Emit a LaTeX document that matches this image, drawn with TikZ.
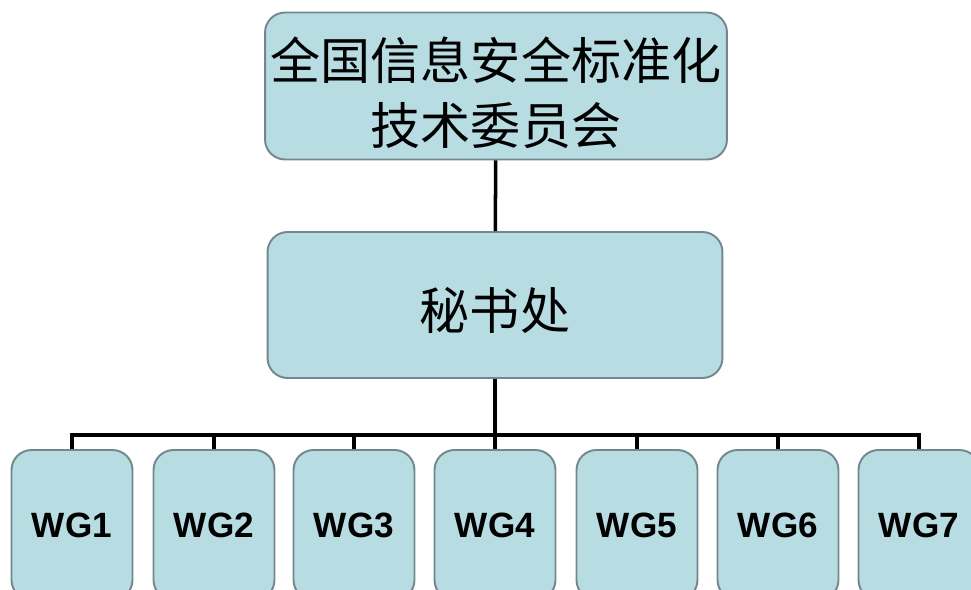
\documentclass[tikz,border=0pt]{standalone}
\usepackage{fontspec}
\setmainfont{Liberation Sans}
\newfontfamily\cjk{Noto Sans CJK SC}
\usepackage{tikz}
\usetikzlibrary{calc}
\definecolor{boxfill}{RGB}{183,221,227}
\definecolor{boxline}{RGB}{115,135,140}
\tikzset{
  orgbox/.style={draw=boxline,line width=1.1pt,fill=boxfill,rounded corners=0.4cm,inner sep=0pt},
  wgbox/.style={orgbox,minimum width=2.42cm,minimum height=3cm,font=\bfseries\fontsize{20}{24}\selectfont},
  link/.style={line width=2pt,black}
}

\begin{document}
\begin{tikzpicture}[x=0.02cm,y=-0.02cm]
\useasboundingbox (0,0) rectangle (971,589);
\clip (0,0) rectangle (971,589);
\node[orgbox,minimum width=9.24cm,minimum height=2.94cm,align=center,
  font=\cjk\fontsize{28.5}{37.5}\selectfont] (top) at (496,86) {\rule{0pt}{32pt}全国信息安全标准化\\技术委员会};
\node[orgbox,minimum width=9.1cm,minimum height=2.92cm,
  font=\cjk\fontsize{28.5}{34}\selectfont] (sec) at (495,305) {\rule{0pt}{30.5pt}秘书处};
\coordinate (bus) at (495,435);
\foreach \x [count=\i] in {72,214,354,495,637,778,919} {
	\node[wgbox] (wg\i) at (\x,525) {WG\i};
}
\draw[link] (top) -- (sec);
\draw[link] (sec) -- (sec |- bus);
\draw[link] (wg1.north) -- (wg1.north |- bus) -- (wg7.north |- bus) -- (wg7.north);
\foreach \i in {2,...,6} {
	\draw[link] (wg\i.north) -- (wg\i.north |- bus);
}
\end{tikzpicture}
\end{document}
